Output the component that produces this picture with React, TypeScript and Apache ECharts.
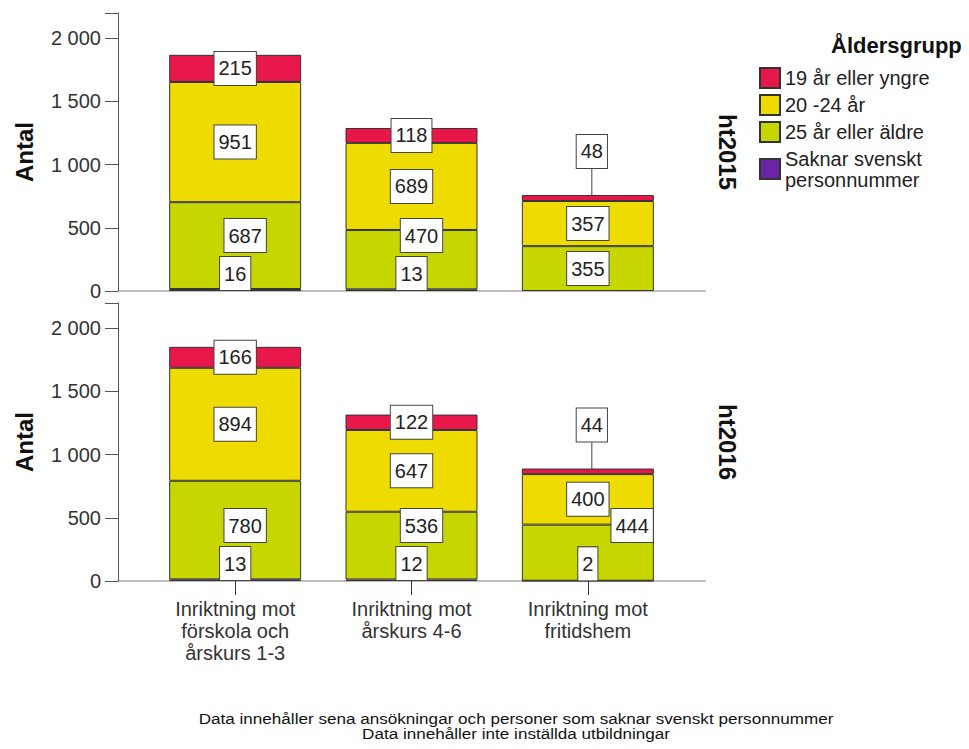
import React, { useEffect, useRef } from "react";
import * as echarts from "echarts";

const categories = [
  "Inriktning mot\nförskola och\nårskurs 1-3",
  "Inriktning mot\nårskurs 4-6",
  "Inriktning mot\nfritidshem",
];
const panelNames = ["ht2015", "ht2016"];
const seriesNames = [
  "Saknar svenskt\npersonnummer",
  "25 år eller äldre",
  "20 -24 år",
  "19 år eller yngre",
];
const legendOrder = [
  "19 år eller yngre",
  "20 -24 år",
  "25 år eller äldre",
  "Saknar svenskt\npersonnummer",
];

// ht2015
const saknar2015: (number | null)[] = [16, 13, null];
const aldre2015 = [687, 470, 355];
const mellan2015 = [951, 689, 357];
const yngre2015 = [215, 118, 48];
// ht2016
const saknar2016: (number | null)[] = [13, 12, 2];
const aldre2016 = [780, 536, 444];
const mellan2016 = [894, 647, 400];
const yngre2016 = [166, 122, 44];

const yMax = 2200;
const yInterval = 500;

const colors = ["#6B24A6", "#C8D600", "#EEDC00", "#E8174A"];
const FONT = "'Liberation Sans', Arial, sans-serif";

// layout constants
const GRID_LEFT = 147;
const GRID_W = 529;
const GRID_H = 278;
const GRID_TOPS = [13, 303];
const AXIS_X = 118;
const AXIS_RIGHT = 706;
const PX = GRID_H / yMax;

function fmtThousands(v: number) {
  if (v % yInterval !== 0) return "";
  return String(v).replace(/\B(?=(\d{3})+(?!\d))/g, " ");
}

export default function App() {
  const ref = useRef<HTMLDivElement>(null);
  useEffect(() => {
    if (!ref.current) return;
    const chart = echarts.init(ref.current, undefined, { renderer: "svg" });

    const panels = [
      { saknar: saknar2015, aldre: aldre2015, mellan: mellan2015, yngre: yngre2015 },
      { saknar: saknar2016, aldre: aldre2016, mellan: mellan2016, yngre: yngre2016 },
    ];

    const labelStyle = {
      show: true,
      position: "inside",
      backgroundColor: "#fff",
      borderColor: "#444",
      borderWidth: 1,
      padding: [7, 4, 6, 4],
      fontSize: 20,
      fontFamily: FONT,
      color: "#222",
    };

    const series: any[] = [];
    panels.forEach((p, pi) => {
      const stack = "s" + pi;
      const common = {
        type: "bar",
        stack,
        xAxisIndex: pi,
        yAxisIndex: pi,
        barWidth: 132,
      };
      const purpleLayout = (params: any) => {
        const r = params.rect, l = params.labelRect;
        const base = r.y + r.height;
        const bottom = l.y + l.height;
        return bottom > base ? { dy: base - bottom } : {};
      };
      const greenLayout = (params: any) => {
        const i = params.dataIndex;
        const s = p.saknar[i];
        if (!s) return {};
        const r = params.rect, l = params.labelRect;
        const base = r.y + r.height + s * PX;
        const limit = base - l.height - 3;
        const bottom = l.y + l.height;
        if (bottom <= limit) return {};
        const dy = limit - bottom;
        let dx = 10;
        const yellowBottom = r.y - (p.mellan[i] * PX) / 2 + l.height / 2;
        if (l.y + dy < yellowBottom + 4) dx = r.x + r.width - (l.x + l.width);
        return { dx, dy };
      };
      const redLayout = (params: any) => {
        const r = params.rect, l = params.labelRect;
        if (r.height >= 10) return {};
        const target = r.y - 43.5;
        return { dy: target - (l.y + l.height / 2), dx: 4 };
      };
      const arrays = [p.saknar, p.aldre, p.mellan, p.yngre];
      const layouts = [purpleLayout, greenLayout, undefined, redLayout];
      arrays.forEach((arr, si) => {
        const data =
          si === 3
            ? (arr as number[]).map((v) => ({
                value: v,
                labelLine: { show: v * PX < 10 },
              }))
            : arr;
        series.push({
          ...common,
          name: seriesNames[si],
          data,
          itemStyle: { color: colors[si], borderColor: "#333", borderWidth: 1 },
          label: labelStyle,
          labelLine: { show: false, lineStyle: { color: "#444", width: 1 } },
          labelLayout: layouts[si],
        });
      });
    });

    const option: any = {
      animation: false,
      textStyle: { fontFamily: FONT },
      title: {
        text: "Åldersgrupp",
        left: 826,
        top: 29,
        textStyle: { fontSize: 22, fontWeight: "bold", color: "#111", fontFamily: FONT },
      },
      legend: {
        orient: "vertical",
        left: 754,
        top: 62,
        icon: "rect",
        itemWidth: 20,
        itemHeight: 20,
        itemGap: 5,
        data: legendOrder,
        selectedMode: false,
        textStyle: { fontSize: 20, lineHeight: 21, color: "#222", fontFamily: FONT },
      },
      grid: GRID_TOPS.map((t) => ({
        left: GRID_LEFT,
        top: t,
        width: GRID_W,
        height: GRID_H,
      })),
      xAxis: GRID_TOPS.map((_, i) => ({
        type: "category",
        gridIndex: i,
        data: categories,
        axisLine: { show: false },
        axisTick:
          i === 1
            ? { show: true, alignWithLabel: true, length: 14, lineStyle: { color: "#333" } }
            : { show: false },
        axisLabel:
          i === 1
            ? {
                show: true,
                fontSize: 20,
                lineHeight: 22,
                margin: 17,
                color: "#333",
                fontFamily: FONT,
                interval: 0,
              }
            : { show: false },
        splitLine: { show: false },
      })),
      yAxis: GRID_TOPS.map((_, i) => ({
        type: "value",
        gridIndex: i,
        min: 0,
        max: yMax,
        interval: yInterval,
        offset: GRID_LEFT - AXIS_X,
        name: "Antal",
        nameLocation: "middle",
        nameRotate: 90,
        nameGap: 82,
        nameTextStyle: { fontSize: 24, fontWeight: "bold", color: "#111", fontFamily: FONT },
        axisLine: { show: true, lineStyle: { color: "#555" } },
        axisTick: { show: true, length: 13, lineStyle: { color: "#555" } },
        axisLabel: {
          fontSize: 20,
          color: "#333",
          margin: 17,
          fontFamily: FONT,
          formatter: (v: number) => fmtThousands(v),
        },
        splitLine: { show: false },
      })),
      graphic: [
        ...GRID_TOPS.map((t) => ({
          type: "line",
          z: -1,
          shape: { x1: AXIS_X, y1: t + GRID_H, x2: AXIS_RIGHT, y2: t + GRID_H },
          style: { stroke: "#aaa", lineWidth: 1.5 },
        })),
        ...GRID_TOPS.map((t, i) => ({
          type: "text",
          x: 727,
          y: t + GRID_H / 2,
          rotation: -Math.PI / 2,
          style: {
            text: panelNames[i],
            fontSize: 24,
            fontWeight: "bold",
            fontFamily: FONT,
            fill: "#111",
            textAlign: "center",
            textVerticalAlign: "middle",
          },
        })),
        {
          type: "text",
          x: 516,
          y: 711,
          scaleX: 1.14,
          style: {
            text:
              "Data innehåller sena ansökningar och personer som saknar svenskt personnummer\nData innehåller inte inställda utbildningar",
            fontSize: 15,
            lineHeight: 15,
            fontFamily: FONT,
            fill: "#111",
            textAlign: "center",
          },
        },
      ],
      series,
    };
    chart.setOption(option);
    return () => chart.dispose();
  }, []);
  return (
    <div
      ref={ref}
      style={{ position: "fixed", left: 0, top: 0, width: 969, height: 749, background: "#fff" }}
    />
  );
}
